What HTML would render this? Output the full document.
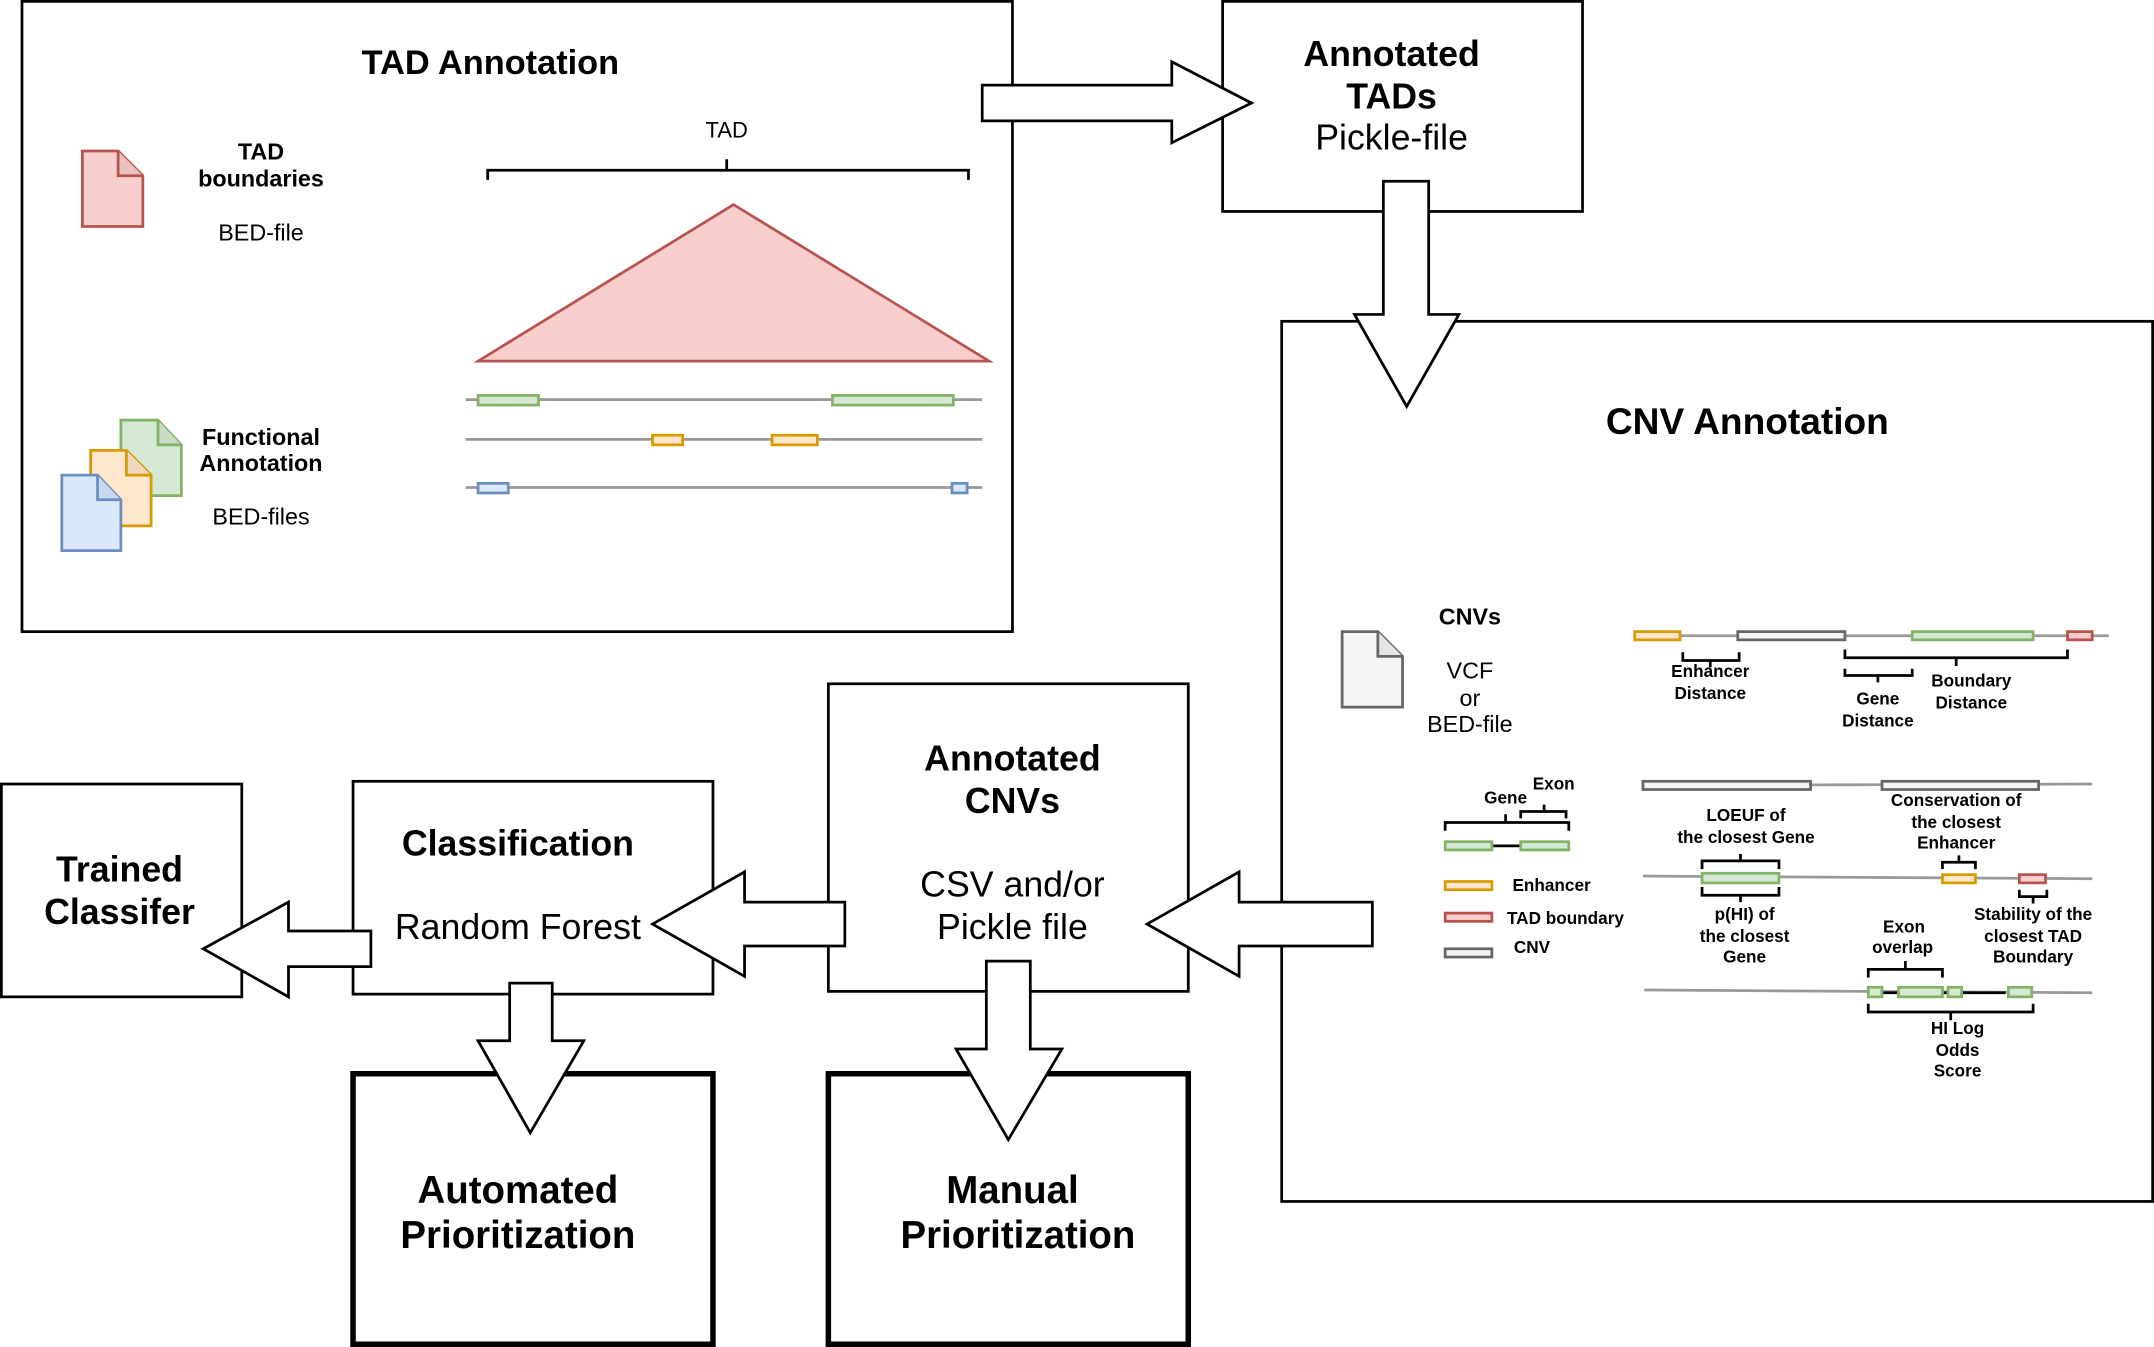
<!DOCTYPE html>
<html><head><meta charset="utf-8"><style>html,body{margin:0;padding:0;background:#fff}svg{display:block}</style></head><body>
<svg width="2154" height="1347" viewBox="0 0 1568 981" preserveAspectRatio="none" xmlns="http://www.w3.org/2000/svg" font-family="Liberation Sans, sans-serif">
<rect width="1568" height="981" fill="#fff"/>
<g fill="#fff" stroke="#000" stroke-width="2">
<rect x="16" y="1" width="721" height="459"/>
<rect x="890" y="1" width="262" height="153"/>
<rect x="933" y="234" width="634" height="641"/>
<rect x="603" y="498" width="262" height="224"/>
<rect x="257" y="569" width="262" height="155"/>
<rect x="1" y="571" width="175" height="155"/>
<rect x="257" y="782" width="262" height="197" stroke-width="4"/>
<rect x="603" y="782" width="262" height="197" stroke-width="4"/>
</g>
<g font-weight="bold" text-anchor="middle" fill="#000">
<text x="357" y="54" font-size="25">TAD Annotation</text>
<text x="1272" y="316" font-size="27">CNV Annotation</text>
<text x="1013" y="48" font-size="26">Annotated</text>
<text x="1013" y="79" font-size="26">TADs</text>
<text x="737" y="561" font-size="26">Annotated</text>
<text x="737" y="592" font-size="26">CNVs</text>
<text x="377" y="623" font-size="26">Classification</text>
<text x="87" y="642" font-size="26">Trained</text>
<text x="87" y="673" font-size="26">Classifer</text>
<text x="377" y="876" font-size="28">Automated</text>
<text x="377" y="909" font-size="28">Prioritization</text>
<text x="737" y="876" font-size="28">Manual</text>
<text x="741" y="909" font-size="28">Prioritization</text>
</g>
<g text-anchor="middle" fill="#000" font-size="26">
<text x="1013" y="109">Pickle-file</text>
<text x="737" y="653">CSV and/or</text>
<text x="737" y="684">Pickle file</text>
<text x="377" y="684">Random Forest</text>
</g>
<!-- TAD annotation internals -->
<g text-anchor="middle" font-size="17">
<text x="190" y="116" font-weight="bold">TAD</text>
<text x="190" y="136" font-weight="bold">boundaries</text>
<text x="190" y="175">BED-file</text>
<text x="190" y="324" font-weight="bold">Functional</text>
<text x="190" y="343" font-weight="bold">Annotation</text>
<text x="190" y="382">BED-files</text>
<text x="529" y="100" font-size="16">TAD</text>
</g>
<path d="M355 131V124H705V131M529 124V116" fill="none" stroke="#000" stroke-width="2"/>
<polygon points="348,263 534,149 720,263" fill="#f8cecc" stroke="#b85450" stroke-width="2"/>
<g stroke-width="2">
<path d="M60 110H86L104 128V165H60Z" fill="#f8cecc" stroke="#b85450"/><path d="M86 110V128H104" fill="#eac2c0" stroke="#b85450"/>
<path d="M88 306H115L132 324V361H88Z" fill="#d5e8d4" stroke="#82b366"/><path d="M115 306V324H132" fill="#c7dbc6" stroke="#82b366"/>
<path d="M66 328H92L110 346V383H66Z" fill="#ffe6cc" stroke="#d79b00"/><path d="M92 328V346H110" fill="#f0d8c0" stroke="#d79b00"/>
<path d="M45 346H71L88 364V401H45Z" fill="#dae8fc" stroke="#6c8ebf"/><path d="M71 346V364H88" fill="#c8d8ee" stroke="#6c8ebf"/>
<path d="M977 460H1003L1021 478V515H977Z" fill="#f5f5f5" stroke="#666"/><path d="M1003 460V478H1021" fill="#e4e4e4" stroke="#666"/>
</g>
<g stroke="#999" stroke-width="2">
<line x1="339" y1="291" x2="715" y2="291"/><line x1="339" y1="320" x2="715" y2="320"/><line x1="339" y1="355" x2="715" y2="355"/>
</g>
<g stroke-width="2">
<rect x="348" y="288" width="44" height="7" fill="#d5e8d4" stroke="#82b366"/>
<rect x="606" y="288" width="88" height="7" fill="#d5e8d4" stroke="#82b366"/>
<rect x="475" y="317" width="22" height="7" fill="#ffe6cc" stroke="#d79b00"/>
<rect x="562" y="317" width="33" height="7" fill="#ffe6cc" stroke="#d79b00"/>
<rect x="348" y="352" width="22" height="7" fill="#dae8fc" stroke="#6c8ebf"/>
<rect x="693" y="352" width="11" height="7" fill="#dae8fc" stroke="#6c8ebf"/>
</g>
<!-- CNV annotation internals -->
<text x="1070" y="455" font-size="17" font-weight="bold" text-anchor="middle">CNVs</text>
<g font-size="17" text-anchor="middle"><text x="1070" y="494">VCF</text><text x="1070" y="514">or</text><text x="1070" y="533">BED-file</text></g>
<g stroke="#999" stroke-width="2">
<line x1="1190" y1="463" x2="1535" y2="463"/>
<line x1="1196" y1="572" x2="1523" y2="571"/>
<line x1="1196" y1="638" x2="1523" y2="640"/>
<line x1="1197" y1="721" x2="1523" y2="723"/>
</g>
<g stroke-width="2">
<rect x="1190" y="460" width="33" height="6" fill="#ffe6cc" stroke="#d79b00"/>
<rect x="1265" y="460" width="78" height="6" fill="#f5f5f5" stroke="#666"/>
<rect x="1392" y="460" width="88" height="6" fill="#d5e8d4" stroke="#82b366"/>
<rect x="1505" y="460" width="18" height="6" fill="#f8cecc" stroke="#b85450"/>
<rect x="1196" y="569" width="122" height="6" fill="#f5f5f5" stroke="#666"/>
<rect x="1370" y="569" width="114" height="6" fill="#f5f5f5" stroke="#666"/>
<rect x="1239" y="636" width="56" height="7" fill="#d5e8d4" stroke="#82b366"/>
<rect x="1414" y="637" width="24" height="6" fill="#ffe6cc" stroke="#d79b00"/>
<rect x="1470" y="637" width="19" height="6" fill="#f8cecc" stroke="#b85450"/>
<line x1="1370" y1="723" x2="1460" y2="723" stroke="#000"/>
<rect x="1360" y="719" width="10" height="7" fill="#d5e8d4" stroke="#82b366"/>
<rect x="1382" y="719" width="32" height="7" fill="#d5e8d4" stroke="#82b366"/>
<rect x="1418" y="719" width="10" height="7" fill="#d5e8d4" stroke="#82b366"/>
<rect x="1462" y="719" width="17" height="7" fill="#d5e8d4" stroke="#82b366"/>
<line x1="1058" y1="616" x2="1108" y2="616" stroke="#000"/>
<rect x="1052" y="613" width="34" height="6" fill="#d5e8d4" stroke="#82b366"/>
<rect x="1107" y="613" width="35" height="6" fill="#d5e8d4" stroke="#82b366"/>
<rect x="1052" y="642" width="34" height="6" fill="#ffe6cc" stroke="#d79b00"/>
<rect x="1052" y="665" width="34" height="6" fill="#f8cecc" stroke="#b85450"/>
<rect x="1052" y="691" width="34" height="6" fill="#f5f5f5" stroke="#666"/>
</g>
<g fill="none" stroke="#000" stroke-width="2">
<path d="M1225 475V481H1266V475M1245 481V486"/>
<path d="M1343 473V479H1505V473M1424 479V485"/>
<path d="M1343 487V492H1392V487M1367 492V497"/>
<path d="M1052 605V599H1142V605M1096 599V593"/>
<path d="M1107 596V591H1140V596M1124 591V586"/>
<path d="M1239 633V627H1295V633M1267 627V622"/>
<path d="M1239 646V652H1295V646M1267 652V657"/>
<path d="M1414 633V628H1438V633M1426 628V623"/>
<path d="M1470 648V653H1490V648M1480 653V658"/>
<path d="M1360 712V706H1414V712M1387 706V700"/>
<path d="M1360 731V737H1480V731M1420 737V743"/>
</g>
<g font-size="12.5" font-weight="bold" text-anchor="middle">
<text x="1245" y="493">Enhancer</text><text x="1245" y="509">Distance</text>
<text x="1367" y="513">Gene</text><text x="1367" y="529">Distance</text>
<text x="1435" y="500">Boundary</text><text x="1435" y="516">Distance</text>
<text x="1131" y="575">Exon</text><text x="1096" y="585">Gene</text>
<text x="1271" y="598">LOEUF of</text><text x="1271" y="614">the closest Gene</text>
<text x="1424" y="587">Conservation of</text><text x="1424" y="603">the closest</text><text x="1424" y="618">Enhancer</text>
<text x="1270" y="670">p(HI) of</text><text x="1270" y="686">the closest</text><text x="1270" y="701">Gene</text>
<text x="1386" y="679">Exon</text><text x="1385" y="694">overlap</text>
<text x="1480" y="670">Stability of the</text><text x="1480" y="686">closest TAD</text><text x="1480" y="701">Boundary</text>
<text x="1425" y="753">HI Log</text><text x="1425" y="769">Odds</text><text x="1425" y="784">Score</text>
</g>
<g font-size="12.5" font-weight="bold">
<text x="1101" y="649">Enhancer</text><text x="1097" y="673">TAD boundary</text><text x="1102" y="694">CNV</text>
</g>
<!-- block arrows -->
<g fill="#fff" stroke="#000" stroke-width="2">
<polygon points="715,62 853,62 853,45 911,75 853,104 853,88 715,88"/>
<polygon points="1007,132 1040,132 1040,229 1062,229 1024,296 986,229 1007,229"/>
<polygon points="999,657 902,657 902,635 835,673 902,711 902,689 999,689"/>
<polygon points="615,657 542,657 542,635 475,673 542,711 542,689 615,689"/>
<polygon points="270,678 210,678 210,657 148,691 210,726 210,704 270,704"/>
<polygon points="371,716 402,716 402,758 425,758 386,825 348,758 371,758"/>
<polygon points="718,700 750,700 750,764 773,764 734,830 696,764 718,764"/>
</g>
</svg>
</body></html>
